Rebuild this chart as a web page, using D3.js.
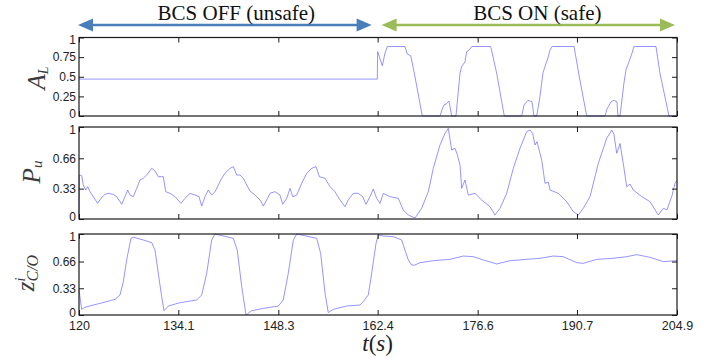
<!DOCTYPE html>
<html>
<head>
<meta charset="utf-8">
<script src="https://cdn.jsdelivr.net/npm/d3@7"></script>
<style>
  body { margin: 0; background: #fff; }
  svg { display: block; }
</style>
</head>
<body>
<div id="chart"></div>
<script>
// Time ticks shown on the x axis
const timeTicks = [120, 134.1, 148.3, 162.4, 176.6, 190.7, 204.9];

// A_L : [t, value]
const alData = [
  [120, 0.47], [162.35, 0.47], [162.4, 0.82], [163.06, 0.64], [163.44, 0.80], [163.77, 0.885],
  [166.28, 0.885], [166.6, 0.79], [167.1, 0.766], [167.7, 0.50], [168.74, 0],
  [171.25, 0], [171.54, 0.08], [171.82, 0.14], [172.1, 0.15], [172.53, 0.19], [172.91, 0],
  [173.52, 0], [174.09, 0.545], [174.33, 0.63], [174.8, 0.69], [175.04, 0.82], [175.4, 0.84], [175.76, 0.885],
  [178.45, 0.885], [179.3, 0.545], [180.38, 0],
  [182.85, 0], [183.18, 0.14], [183.74, 0.2], [184.31, 0.18], [184.6, 0],
  [184.98, 0], [185.45, 0.25], [185.87, 0.55], [186.16, 0.63], [186.58, 0.74], [186.87, 0.84], [187.15, 0.885],
  [190.28, 0.885], [191.03, 0.50], [192.08, 0],
  [194.68, 0], [194.96, 0.09], [195.53, 0.18], [195.95, 0.2], [196.38, 0.18], [196.52, 0],
  [196.81, 0], [197.37, 0.42], [197.66, 0.59], [198.08, 0.69], [198.51, 0.80], [198.79, 0.885],
  [201.92, 0.885], [202.48, 0.545], [203.76, 0], [204.9, 0]
];

// P_u : [t, value]
const puData = [
  [120, 0.02], [120.05, 0.478], [120.38, 0.471], [120.61, 0.37], [120.95, 0.315], [121.24, 0.351],
  [121.56, 0.297], [122.03, 0.243], [122.65, 0.17], [123.12, 0.225], [123.69, 0.268], [124.16, 0.279],
  [124.87, 0.268], [125.35, 0.243], [126.06, 0.16], [126.53, 0.243], [126.91, 0.315], [127.24, 0.26],
  [127.71, 0.243], [128.19, 0.333], [128.66, 0.424], [129.13, 0.442], [129.61, 0.478], [130.32, 0.551],
  [130.79, 0.522], [131.26, 0.46], [131.97, 0.46], [132.31, 0.297], [132.92, 0.279], [133.63, 0.243],
  [134.48, 0.17], [135.05, 0.225], [135.76, 0.279], [136.47, 0.26], [137.04, 0.243], [137.42, 0.141],
  [137.89, 0.243], [138.36, 0.315], [138.84, 0.26], [139.31, 0.297], [140.26, 0.442], [140.73, 0.497],
  [141.44, 0.55], [141.91, 0.569], [142.39, 0.478], [142.86, 0.478], [143.33, 0.442], [143.81, 0.37],
  [144.28, 0.304], [144.99, 0.26], [145.7, 0.207], [146.17, 0.141], [146.65, 0.207], [147.12, 0.279],
  [147.83, 0.297], [148.54, 0.26], [148.92, 0.16], [149.49, 0.225], [149.96, 0.333], [150.34, 0.243],
  [150.91, 0.26], [151.62, 0.388], [152.33, 0.497], [153.04, 0.551], [153.65, 0.569], [154.12, 0.46],
  [154.93, 0.442], [155.64, 0.351], [156.34, 0.297], [157.05, 0.207], [157.76, 0.134], [158.23, 0.207],
  [158.94, 0.279], [159.65, 0.279], [160.28, 0.243], [160.75, 0.16], [161.31, 0.243], [161.78, 0.326],
  [162.26, 0.225], [162.73, 0.17], [163.2, 0.279], [164.15, 0.243], [165.33, 0.225], [166.04, 0.098],
  [166.75, 0.043], [167.7, 0.01], [168.65, 0.116], [169.59, 0.297], [170.3, 0.55], [171.25, 0.804],
  [171.96, 0.93], [172.43, 0.986], [172.91, 0.75], [173.38, 0.768], [173.71, 0.70], [174.09, 0.587],
  [174.33, 0.333], [174.8, 0.424], [175.27, 0.26], [176.22, 0.279], [177.17, 0.207], [178.35, 0.134],
  [179.06, 0.043], [179.77, 0.116], [180.72, 0.279], [181.66, 0.551], [182.61, 0.768], [183.56, 0.949],
  [184.03, 0.967], [184.41, 0.93], [184.74, 0.804], [185.02, 0.84], [185.69, 0.641], [186.16, 0.388],
  [186.63, 0.40], [186.87, 0.315], [188.05, 0.279], [189.24, 0.188], [190.18, 0.08], [190.89, 0.043],
  [191.6, 0.116], [192.55, 0.243], [193.73, 0.605], [194.92, 0.877], [195.63, 0.967], [195.95, 0.92],
  [196.34, 0.714], [196.81, 0.82], [197.27, 0.605], [197.76, 0.351], [198.23, 0.38], [198.7, 0.315],
  [199.89, 0.243], [201.07, 0.188], [202.24, 0.043], [202.96, 0.116], [203.48, 0.10], [204.15, 0.243],
  [204.62, 0.388], [204.9, 0.42]
];

// z^i_{C/O} : [t, value]
const zData = [
  [120, 0.31], [120.38, 0.07], [120.85, 0.095], [122.03, 0.123], [123.93, 0.165], [125.11, 0.193],
  [125.82, 0.247], [126.29, 0.41], [126.77, 0.68], [127.38, 0.947], [127.71, 0.96], [129.13, 0.926],
  [130.32, 0.893], [130.79, 0.80], [131.26, 0.514], [131.74, 0.226], [132.07, 0.053], [132.68, 0.111],
  [134.34, 0.152], [136.71, 0.185], [137.42, 0.247], [138.13, 0.514], [138.84, 0.926], [139.31, 1.0],
  [141.91, 0.947], [142.47, 0.80], [143.1, 0.35], [143.71, 0.0], [144.52, 0.053], [146.17, 0.082],
  [148.3, 0.111], [149.0, 0.185], [149.71, 0.514], [150.43, 0.926], [150.91, 1.0], [153.75, 0.947],
  [154.31, 0.76], [154.93, 0.27], [155.39, 0.03], [156.1, 0.07], [158.01, 0.111], [159.89, 0.123],
  [160.36, 0.165], [161.07, 0.247], [161.55, 0.514], [162.17, 0.885], [162.49, 0.988], [163.2, 0.975],
  [164.62, 0.967], [165.81, 0.926], [166.28, 0.80], [166.75, 0.68], [167.23, 0.617], [167.7, 0.617],
  [168.41, 0.646], [170.3, 0.67], [172.67, 0.687], [174.56, 0.728], [175.98, 0.72], [177.4, 0.68],
  [179.3, 0.63], [181.19, 0.67], [183.56, 0.687], [185.45, 0.70], [187.34, 0.728], [188.76, 0.72],
  [190.66, 0.646], [191.6, 0.638], [193.5, 0.687], [195.86, 0.70], [197.76, 0.72], [199.18, 0.745],
  [201.07, 0.712], [202.96, 0.658], [204.62, 0.67], [204.9, 0.67]
];

const panels = [
  { data: alData, top: 37.5, bottom: 116, ticks: [0, 0.25, 0.5, 0.75, 1], labels: ["0", "0.25", "0.5", "0.75", "1"] },
  { data: puData, top: 127, bottom: 219, ticks: [0, 0.33, 0.66, 1], labels: ["0", "0.33", "0.66", "1"] },
  { data: zData, top: 234, bottom: 315, ticks: [0, 0.33, 0.66, 1], labels: ["0", "0.33", "0.66", "1"] }
];

const width = 710, height = 358;
const left = 79, right = 677;
const tickFont = "Liberation Sans, Arial, sans-serif";

const svg = d3.select("#chart").append("svg")
  .attr("width", width)
  .attr("height", height);

const x = d3.scaleLinear().domain([120, 204.9]).range([left, right]);

panels.forEach((p, i) => {
  const y = d3.scaleLinear().domain([0, 1]).range([p.bottom, p.top]);
  const g = svg.append("g");

  // data line
  const line = d3.line().x(d => x(d[0])).y(d => y(d[1]));
  g.append("path")
    .datum(p.data)
    .attr("d", line)
    .attr("fill", "none")
    .attr("stroke", "#5858ff")
    .attr("stroke-width", 0.8)
    .attr("stroke-opacity", 0.8);

  // box
  g.append("rect")
    .attr("x", left).attr("y", p.top)
    .attr("width", right - left).attr("height", p.bottom - p.top)
    .attr("fill", "none").attr("stroke", "#1a1a1a").attr("stroke-width", 1.2);

  // y ticks (inward, both sides) + labels
  const yAxisL = d3.axisLeft(y).tickValues(p.ticks).tickSize(-5).tickFormat((d, j) => p.labels[j]).tickPadding(3);
  const ga = g.append("g").attr("transform", `translate(${left},0)`).call(yAxisL);
  ga.select(".domain").remove();
  ga.selectAll("text").attr("font-family", tickFont).attr("font-size", 12).attr("fill", "#222");
  ga.selectAll("line").attr("stroke", "#1a1a1a");
  // nudge the extreme labels so stacked panels don't collide
  ga.selectAll("text").filter(d => d === 0).attr("dy", "0.15em");
  ga.selectAll("text").filter(d => d === 1).attr("dy", "0.5em");

  const yAxisR = d3.axisRight(y).tickValues(p.ticks).tickSize(-5).tickFormat("");
  const gr = g.append("g").attr("transform", `translate(${right},0)`).call(yAxisR);
  gr.select(".domain").remove();
  gr.selectAll("line").attr("stroke", "#1a1a1a");

  // x ticks top and bottom (inward)
  const xb = d3.axisBottom(x).tickValues(timeTicks).tickSize(-5).tickFormat(i === 2 ? (d => d) : "").tickPadding(6);
  const gb = g.append("g").attr("transform", `translate(0,${p.bottom})`).call(xb);
  gb.select(".domain").remove();
  gb.selectAll("line").attr("stroke", "#1a1a1a");
  gb.selectAll("text").attr("font-family", tickFont).attr("font-size", 12.5).attr("fill", "#222");

  const xt = d3.axisTop(x).tickValues(timeTicks).tickSize(-5).tickFormat("");
  const gt = g.append("g").attr("transform", `translate(0,${p.top})`).call(xt);
  gt.select(".domain").remove();
  gt.selectAll("line").attr("stroke", "#1a1a1a");
});

// y-axis labels (rotated, italic serif)
const labelFont = "Liberation Serif, Times New Roman, serif";
function yLabel(bx, cy) {
  return svg.append("text")
    .attr("transform", `translate(${bx},${cy}) rotate(-90)`)
    .attr("text-anchor", "middle")
    .attr("font-family", labelFont)
    .attr("font-style", "italic")
    .attr("font-size", 25)
    .attr("fill", "#3a3a3a");
}
const l1 = yLabel(45, 78);
l1.append("tspan").text("A");
l1.append("tspan").attr("font-size", 14).attr("dy", 3).text("L");

const l2 = yLabel(40, 172);
l2.append("tspan").text("P");
l2.append("tspan").attr("font-size", 15).attr("dy", 2).text("u");

const l3 = yLabel(34, 273);
l3.append("tspan").text("z");
l3.append("tspan").attr("font-size", 14).attr("dy", -9).text("i");
l3.append("tspan").attr("font-size", 16).attr("dx", -4).attr("dy", 13).text("C/O");

// x-axis label
const tl = svg.append("text")
  .attr("x", x(162.4))
  .attr("y", 351)
  .attr("text-anchor", "middle")
  .attr("font-family", labelFont)
  .attr("font-size", 23)
  .attr("fill", "#222");
tl.append("tspan").attr("font-style", "italic").text("t");
tl.append("tspan").text("(");
tl.append("tspan").attr("font-style", "italic").text("s");
tl.append("tspan").text(")");

// BCS arrows
function doubleArrow(x1, x2, yy, color) {
  const hw = 15, hh = 6.5;
  svg.append("line")
    .attr("x1", x1 + hw - 2).attr("x2", x2 - hw + 2)
    .attr("y1", yy).attr("y2", yy)
    .attr("stroke", color).attr("stroke-width", 2.5);
  svg.append("path")
    .attr("d", `M${x1},${yy} L${x1 + hw},${yy - hh} L${x1 + hw},${yy + hh} Z`)
    .attr("fill", color);
  svg.append("path")
    .attr("d", `M${x2},${yy} L${x2 - hw},${yy - hh} L${x2 - hw},${yy + hh} Z`)
    .attr("fill", color);
}
doubleArrow(x(120) - 1, x(162.4) - 6, 25, "#4a7ebb");
doubleArrow(x(162.4) + 4, x(204.9) - 2, 25, "#9bbb59");

svg.append("text")
  .attr("x", (x(120) + x(162.4)) / 2 + 8)
  .attr("y", 20)
  .attr("text-anchor", "middle")
  .attr("font-family", labelFont)
  .attr("font-size", 21)
  .attr("fill", "#111")
  .text("BCS OFF (unsafe)");

svg.append("text")
  .attr("x", (x(162.4) + x(204.9)) / 2 + 10)
  .attr("y", 20)
  .attr("text-anchor", "middle")
  .attr("font-family", labelFont)
  .attr("font-size", 21)
  .attr("fill", "#111")
  .text("BCS ON (safe)");
</script>
</body>
</html>
